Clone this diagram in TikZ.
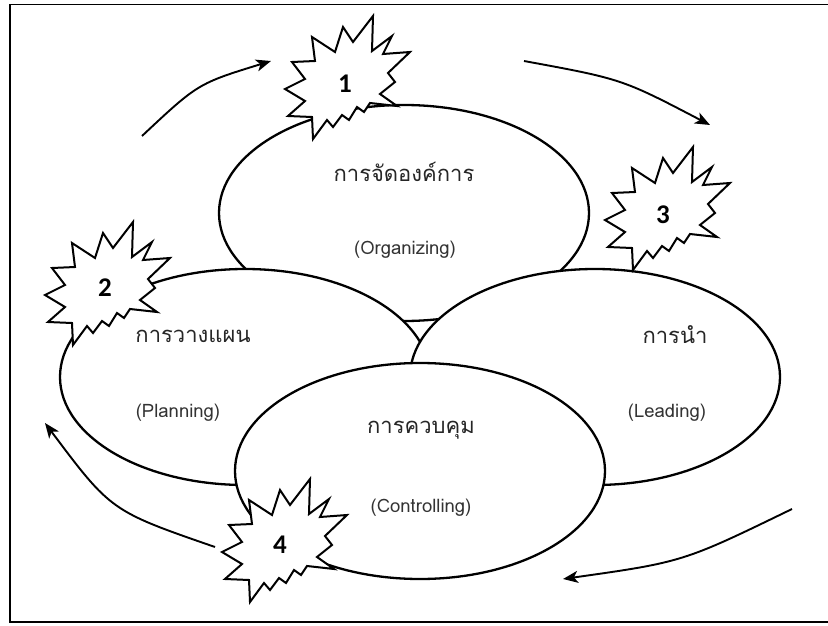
\documentclass[tikz,border=0pt]{standalone}
\usepackage{fontspec}
\usetikzlibrary{shapes.geometric,arrows.meta}
\newfontfamily\thaifont[Script=Thai]{Loma}
\newfontfamily\numfont{Carlito}

\begin{document}
\begin{tikzpicture}[x=1pt,y=-1pt,
  phase/.style={ellipse,draw=black,line width=2.3pt,fill=white,
    minimum width=370pt,minimum height=216pt,inner sep=0pt},
  thlabel/.style={font=\thaifont\fontsize{22}{26}\selectfont,text=black!85,inner sep=0pt},
  enlabel/.style={font=\thaifont\fontsize{18.5}{22}\selectfont,text=black!80,inner sep=0pt},
  num/.style={font=\numfont\bfseries\fontsize{27}{30}\selectfont,inner sep=0pt},
  cycle arrow/.style={line width=1.9pt,-{Stealth[length=15pt,width=12pt,inset=4pt]}},
  burst/.pic={
    \draw[line width=2pt,fill=white,line join=miter]
      (88,0) -- (87,35) -- (107,20) -- (98,38) -- (125,36) -- (103,57)
      -- (110,66) -- (95,78) -- (112,90) -- (85,87) -- (79,96) -- (72,91)
      -- (64,104) -- (57,99) -- (48,111) -- (42,104) -- (28,123) -- (27,101)
      -- (3,100) -- (20,85) -- (0,73) -- (20,63) -- (7,46) -- (30,45)
      -- (27,21) -- (50,36) -- (58,11) -- (68,26) -- cycle;
  }
]
\useasboundingbox (0,0) rectangle (828,626);
\clip (0,0) rectangle (828,626);

% frame
\draw[line width=1.6pt] (10,4.5) rectangle (850,622);

% the four management functions
\node[phase] (org)  at (404,213) {};
\node[phase] (plan) at (245,377) {};
\node[phase] (lead) at (595,377) {};
\node[phase] (ctrl) at (420,471) {};

% numbered bursts
\pic at (285,16)  {burst};
\pic at (45,222)  {burst};
\pic at (605,147) {burst};
\pic at (222,479) {burst};
\node[num] (n1) at (345,84)  {1};
\node[num] (n2) at (105,288) {2};
\node[num] (n3) at (663,215) {3};
\node[num] (n4) at (280,545) {4};

% labels
\node[thlabel] (torg)  at (404,172) {การจัดองค์การ};
\node[enlabel] (eorg)  at (405,250) {(Organizing)};
\node[thlabel] (tplan) at (193,336) {การวางแผน};
\node[enlabel] (eplan) at (178,413) {(Planning)};
\node[thlabel] (tlead) at (675,335) {การนำ};
\node[enlabel] (elead) at (667,413) {(Leading)};
\node[thlabel] (tctrl) at (421,430) {การควบคุม};
\node[enlabel] (ectrl) at (421,508) {(Controlling)};

% cycle arrows
\coordinate (a1s) at (142,136);
\coordinate (a1e) at (271,61);
\coordinate (a2s) at (524,61);
\coordinate (a2e) at (710,125);
\coordinate (a3s) at (792,509);
\coordinate (a3e) at (563,579);
\coordinate (a4s) at (215,547);
\coordinate (a4e) at (45,423);
\draw[cycle arrow] (a1s) .. controls (198,83.5) .. (a1e);
\draw[cycle arrow] (a2s) .. controls (622,79) .. (a2e);
\draw[cycle arrow] (a3s) .. controls (683,562) .. (a3e);
\draw[cycle arrow] (a4s) .. controls (111,511) .. (a4e);
\end{tikzpicture}
\end{document}
